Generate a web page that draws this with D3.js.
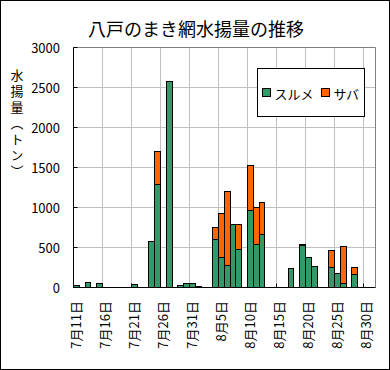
<!DOCTYPE html>
<html>
<head>
<meta charset="utf-8">
<script src="https://cdn.jsdelivr.net/npm/d3@7"></script>
<style>
body { margin: 0; background: #fff; }
</style>
</head>
<body>
<svg id="chart" width="390" height="370"></svg>
<script>
var days = ["7月11日","7月12日","7月13日","7月14日","7月15日","7月16日","7月17日","7月18日","7月19日","7月20日",
    "7月21日","7月22日","7月23日","7月24日","7月25日","7月26日","7月27日","7月28日","7月29日","7月30日","7月31日",
    "8月1日","8月2日","8月3日","8月4日","8月5日","8月6日","8月7日","8月8日","8月9日","8月10日",
    "8月11日","8月12日","8月13日","8月14日","8月15日","8月16日","8月17日","8月18日","8月19日","8月20日",
    "8月21日","8月22日","8月23日","8月24日","8月25日","8月26日","8月27日","8月28日","8月29日","8月30日","8月31日"];
// スルメ (green)
var surume = [30,0,60,0,45,0,0,0,0,0,
    35,0,0,575,1290,0,2570,0,20,45,45,
    10,0,0,600,380,270,790,470,0,960,
    540,660,0,0,0,0,235,0,535,370,
    265,0,0,255,170,55,0,160,0,0,0];
// サバ (orange)
var saba = [0,0,0,0,0,0,0,0,0,0,
    0,0,0,0,410,0,0,0,0,0,0,
    0,0,0,150,550,930,0,320,0,565,
    460,400,0,0,0,0,0,0,8,0,
    0,0,0,205,0,455,0,85,0,0,0];
var xTickLabels = ["7月11日","7月16日","7月21日","7月26日","7月31日","8月5日","8月10日","8月15日","8月20日","8月25日","8月30日"];
var yTicks = [0,500,1000,1500,2000,2500,3000];
var seriesNames = ["スルメ","サバ"];
var seriesColors = ["#339966","#ff6600"];

var font = '"Noto Sans CJK JP", "DejaVu Sans", sans-serif';
var svg = d3.select('#chart');
var plotLeft = 73, plotRight = 374.5, plotTop = 47, plotBottom = 287;

svg.append('rect')
    .attr('x', 0.5).attr('y', 0.5).attr('width', 389).attr('height', 369)
    .attr('fill', '#fff').attr('stroke', '#000');

var xScale = d3.scaleBand().domain(days).range([plotLeft, plotRight]).padding(0);
var yScale = d3.scaleLinear().domain([0, 3000]).range([plotBottom, plotTop]);
var px = function (v) { return Math.round(v) + 0.5; };

// grid
svg.append('g').selectAll('line').data(yTicks.filter(function (d) { return d > 0; }))
    .enter().append('line')
    .attr('x1', plotLeft).attr('x2', px(plotRight))
    .attr('y1', function (d) { return px(yScale(d)); })
    .attr('y2', function (d) { return px(yScale(d)); })
    .attr('stroke', '#c0c0c0');

svg.append('g').selectAll('line').data(xTickLabels.slice(1))
    .enter().append('line')
    .attr('x1', function (d) { return px(xScale(d)); })
    .attr('x2', function (d) { return px(xScale(d)); })
    .attr('y1', plotTop).attr('y2', plotBottom)
    .attr('stroke', '#c0c0c0');

// plot border top / right
svg.append('path')
    .attr('d', 'M' + px(plotLeft) + ',' + px(plotTop) + 'H' + px(plotRight) + 'V' + px(plotBottom))
    .attr('fill', 'none').attr('stroke', '#808080');

// stacked bars
var rows = days.map(function (d, i) { return {day: d, surume: surume[i], saba: saba[i]}; });
var stack = d3.stack().keys(['surume', 'saba'])(rows);

svg.append('g').selectAll('g').data(stack).enter().append('g')
    .attr('fill', function (d, i) { return seriesColors[i]; })
    .selectAll('rect')
    .data(function (d) { return d.filter(function (p) { return p[1] - p[0] > 0; }); })
    .enter().append('rect')
    .attr('x', function (d) { return px(xScale(d.data.day)); })
    .attr('width', function (d) { return px(xScale(d.data.day) + xScale.bandwidth()) - px(xScale(d.data.day)); })
    .attr('y', function (d) { return px(yScale(d[1])); })
    .attr('height', function (d) { return Math.max(1, px(yScale(d[0])) - px(yScale(d[1]))); })
    .attr('stroke', '#000').attr('stroke-width', 1);

// axes
svg.append('line').attr('x1', px(plotLeft)).attr('x2', px(plotLeft)).attr('y1', px(plotTop)).attr('y2', px(plotBottom))
    .attr('stroke', '#000');
svg.append('line').attr('x1', px(plotLeft)).attr('x2', px(plotRight)).attr('y1', px(plotBottom)).attr('y2', px(plotBottom))
    .attr('stroke', '#000');

svg.append('g').selectAll('line').data(yTicks)
    .enter().append('line')
    .attr('x1', px(plotLeft)).attr('x2', px(plotLeft) + 4)
    .attr('y1', function (d) { return px(yScale(d)); })
    .attr('y2', function (d) { return px(yScale(d)); })
    .attr('stroke', '#000');

svg.append('g').selectAll('line').data(xTickLabels)
    .enter().append('line')
    .attr('x1', function (d) { return px(xScale(d)); })
    .attr('x2', function (d) { return px(xScale(d)); })
    .attr('y1', px(plotBottom)).attr('y2', px(plotBottom) - 4)
    .attr('stroke', '#000');

svg.append('g').selectAll('text').data(yTicks)
    .enter().append('text')
    .attr('x', 60).attr('y', function (d) { return yScale(d); })
    .attr('text-anchor', 'end').attr('dominant-baseline', 'central')
    .style('font-family', font).style('font-size', '13px')
    .text(function (d) { return d; });

svg.append('g').selectAll('text').data(xTickLabels)
    .enter().append('text')
    .attr('transform', function (d) {
        return 'translate(' + (xScale(d) + xScale.bandwidth() / 2) + ',301)rotate(-90)';
    })
    .attr('text-anchor', 'end').attr('dominant-baseline', 'central')
    .style('font-family', font).style('font-size', '13px')
    .text(function (d) { return d; });

// titles
svg.append('text')
    .attr('x', 196).attr('y', 28)
    .attr('text-anchor', 'middle').attr('dominant-baseline', 'central')
    .style('font-family', font).style('font-size', '18px')
    .text('八戸のまき網水揚量の推移');

svg.append('text')
    .attr('x', 17).attr('y', 69)
    .style('writing-mode', 'vertical-rl')
    .style('font-family', font).style('font-size', '13px')
    .style('letter-spacing', '3px')
    .text('水揚量（トン）');

// legend
var legend = svg.append('g');
legend.append('rect')
    .attr('x', 257.5).attr('y', 68.5).attr('width', 107).attr('height', 48)
    .attr('fill', '#fff').attr('stroke', '#000');
var legendX = [262.5, 321.5];
seriesNames.forEach(function (name, i) {
    legend.append('rect')
        .attr('x', legendX[i]).attr('y', 88.5).attr('width', 8).attr('height', 8)
        .attr('fill', seriesColors[i]).attr('stroke', '#000');
    legend.append('text')
        .attr('x', legendX[i] + 12).attr('y', 93)
        .attr('dominant-baseline', 'central')
        .style('font-family', font).style('font-size', '13px')
        .text(name);
});
</script>
</body>
</html>
